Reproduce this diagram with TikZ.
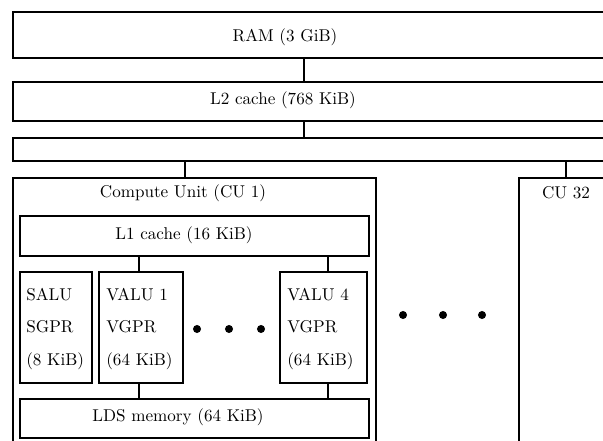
\documentclass[tikz,border=0pt]{standalone}
\begin{document}
\begin{tikzpicture}[
  x=0.585pt, y=-0.585pt,
  box/.style={draw, line width=1.35pt, inner sep=0pt, anchor=north west},
  link/.style={line width=1.35pt},
  lbl/.style={inner sep=0pt},
  regtext/.style={inner sep=0pt, anchor=west, align=left},
  bigdot/.style={circle, fill, inner sep=0pt, minimum size=4.7pt}
]
\useasboundingbox (0,0) rectangle (603,441);
\clip (0,0) rectangle (603,441);

% boxes
\node[box, minimum width=688*0.585pt, minimum height=46*0.585pt] (ram) at (12,11) {};
\node[box, minimum width=688*0.585pt, minimum height=39*0.585pt] (l2) at (12,81) {};
\node[box, minimum width=688*0.585pt, minimum height=23*0.585pt] (bus) at (12,137) {};
\node[box, minimum width=363*0.585pt, minimum height=303*0.585pt] (cu1) at (12,177) {};
\node[box, minimum width=382*0.585pt, minimum height=303*0.585pt] (cu32) at (518,177) {};
\node[box, minimum width=349*0.585pt, minimum height=40*0.585pt] (l1) at (19,215) {};
\node[box, minimum width=72*0.585pt, minimum height=111*0.585pt] (salu) at (19,271) {};
\node[box, minimum width=84*0.585pt, minimum height=111*0.585pt] (valu1) at (98,271) {};
\node[box, minimum width=87*0.585pt, minimum height=111*0.585pt] (valu4) at (279,271) {};
\node[box, minimum width=349*0.585pt, minimum height=39*0.585pt] (lds) at (19,398) {};

% labels
\node[lbl] (tram) at (285,37) {RAM (3 GiB)};
\node[lbl] (tl2) at (283,100) {L2 cache (768 KiB)};
\node[lbl] (tcu1) at (183,193) {Compute Unit (CU 1)};
\node[lbl] (tcu32) at (566,193) {CU 32};
\node[lbl] (tl1) at (184,235) {L1 cache (16 KiB)};
\node[lbl] (tlds) at (178,417) {LDS memory (64 KiB)};
\node[regtext] (tsalu) at (26,329) {SALU\\[7pt]SGPR\\[7pt](8 KiB)};
\node[regtext] (tvalu1) at (106,329) {VALU 1\\[7pt]VGPR\\[7pt](64 KiB)};
\node[regtext] (tvalu4) at (287,329) {VALU 4\\[7pt]VGPR\\[7pt](64 KiB)};

% connector positions
\coordinate (xa) at (304,0);
\coordinate (xb) at (185,0);
\coordinate (xc) at (566,0);
\coordinate (xd) at (139,0);
\coordinate (xe) at (328,0);

% connectors
\draw[link] (ram.south -| xa) -- (l2.north -| xa);
\draw[link] (l2.south -| xa) -- (bus.north -| xa);
\draw[link] (bus.south -| xb) -- (cu1.north -| xb);
\draw[link] (bus.south -| xc) -- (cu32.north -| xc);
\draw[link] (l1.south -| xd) -- (valu1.north -| xd);
\draw[link] (valu1.south -| xd) -- (lds.north -| xd);
\draw[link] (l1.south -| xe) -- (valu4.north -| xe);
\draw[link] (valu4.south -| xe) -- (lds.north -| xe);

% dots
\node[bigdot] (d1) at (197,329) {};
\node[bigdot] (d2) at (229,329) {};
\node[bigdot] (d3) at (261,329) {};
\node[bigdot] (d4) at (403,315) {};
\node[bigdot] (d5) at (443,315) {};
\node[bigdot] (d6) at (482,315) {};
\end{tikzpicture}
\end{document}
